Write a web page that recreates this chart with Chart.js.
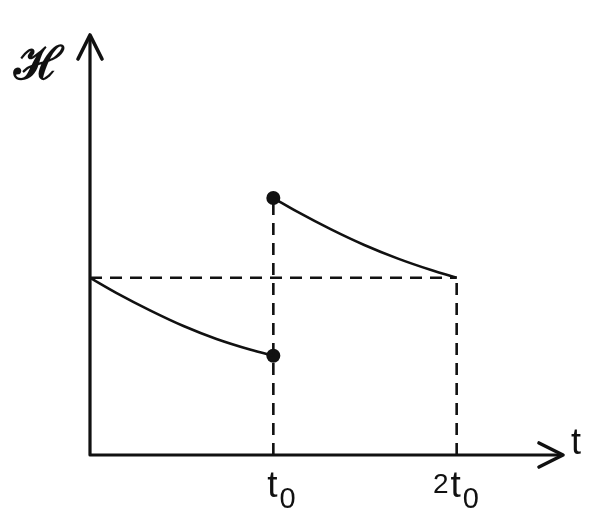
<!DOCTYPE html>
<html>
<head>
<meta charset="utf-8">
<script src="https://cdn.jsdelivr.net/npm/chart.js@4"></script>
<style>
html,body{margin:0;padding:0;background:#fff;}
#wrap{width:613px;height:522px;position:relative;}
</style>
</head>
<body>
<div id="wrap"><canvas id="c" width="613" height="522"></canvas></div>
<script>
// Data (t in units of t0, H in units of the initial value)
const lowerT = [0, 0.143, 0.33, 0.51, 0.69, 0.877, 1.0];
const lowerH = [1.0, 0.915, 0.815, 0.728, 0.655, 0.594, 0.56];
const upperT = [1.0, 1.13, 1.315, 1.496, 1.68, 1.865, 2.0];
const upperH = [1.45, 1.373, 1.273, 1.185, 1.108, 1.042, 1.0];
const dotT = [1.0, 1.0];
const dotH = [0.56, 1.45];
const tickValues = [1, 2];
const tickCoeffs = ['', '2'];
const tickSymbol = 't';
const tickSub = '0';
const xLabel = 't';
const yLabel = 'ℋ';
const xMax = 2.58, yMax = 2.37;

const ink = '#111';
const pts = (xs, ys) => xs.map((x, i) => ({x, y: ys[i]}));

const axesPlugin = {
  id: 'axes',
  beforeDatasetsDraw(chart) {
    const {ctx, scales: {x, y}} = chart;
    const x0 = x.getPixelForValue(0), y0 = y.getPixelForValue(0);
    const xe = x.getPixelForValue(xMax), ye = y.getPixelForValue(yMax);
    ctx.save();
    ctx.strokeStyle = ink; ctx.lineWidth = 3.2; ctx.lineCap = 'round'; ctx.lineJoin = 'round';
    ctx.beginPath();
    ctx.moveTo(x0, ye + 2); ctx.lineTo(x0, y0); ctx.lineTo(xe - 2, y0);
    ctx.stroke();
    // arrowheads
    ctx.lineWidth = 3.6;
    ctx.beginPath();
    ctx.moveTo(x0 - 12, ye + 24); ctx.lineTo(x0, ye); ctx.lineTo(x0 + 12, ye + 24);
    ctx.moveTo(xe - 24, y0 - 12); ctx.lineTo(xe, y0); ctx.lineTo(xe - 24, y0 + 12);
    ctx.stroke();
    // labels
    ctx.fillStyle = ink;
    ctx.textBaseline = 'alphabetic';
    ctx.font = '36px "Liberation Sans", Arial, sans-serif';
    ctx.textAlign = 'left';
    ctx.fillText(xLabel, xe + 8, y0 - 1);
    ctx.font = 'bold 46px "DejaVu Serif", serif';
    ctx.fillText(yLabel, x0 - 76, ye + 44);
    // tick labels
    tickValues.forEach((v, i) => {
      const px = x.getPixelForValue(v);
      ctx.font = '37px "Liberation Sans", Arial, sans-serif';
      const tw = ctx.measureText(tickSymbol).width;
      const tx = px - tw / 2 - 1;
      ctx.fillText(tickSymbol, tx, y0 + 42);
      ctx.font = '29px "Liberation Sans", Arial, sans-serif';
      ctx.fillText(tickSub, tx + tw + 2, y0 + 53);
      if (tickCoeffs[i]) {
        ctx.font = '28px "Liberation Sans", Arial, sans-serif';
        const cw = ctx.measureText(tickCoeffs[i]).width;
        ctx.fillText(tickCoeffs[i], tx - cw - 2, y0 + 38);
      }
    });
    ctx.restore();
  }
};

const dashed = {borderColor: ink, borderWidth: 2.6, borderDash: [12, 8], pointRadius: 0, fill: false, tension: 0};
new Chart(document.getElementById('c'), {
  type: 'scatter',
  data: {
    datasets: [
      Object.assign({data: [{x: 0, y: lowerH[0]}, {x: 2, y: upperH[upperH.length - 1]}], showLine: true}, dashed),
      Object.assign({data: [{x: 1, y: 0}, {x: 1, y: dotH[1]}], showLine: true}, dashed),
      Object.assign({data: [{x: 2, y: 0}, {x: 2, y: upperH[upperH.length - 1]}], showLine: true}, dashed),
      {data: pts(lowerT, lowerH), showLine: true, borderColor: ink, borderWidth: 2.6, pointRadius: 0, cubicInterpolationMode: 'monotone'},
      {data: pts(upperT, upperH), showLine: true, borderColor: ink, borderWidth: 2.6, pointRadius: 0, cubicInterpolationMode: 'monotone'},
      {data: pts(dotT, dotH), showLine: false, pointRadius: 7, backgroundColor: ink, borderColor: ink, borderWidth: 0}
    ]
  },
  options: {
    responsive: false, animation: false, devicePixelRatio: 1,
    layout: {padding: {left: 90, right: 50, top: 35, bottom: 67}},
    plugins: {legend: {display: false}, tooltip: {enabled: false}},
    scales: {
      x: {type: 'linear', min: 0, max: xMax, display: false},
      y: {type: 'linear', min: 0, max: yMax, display: false}
    }
  },
  plugins: [axesPlugin]
});
</script>
</body>
</html>
